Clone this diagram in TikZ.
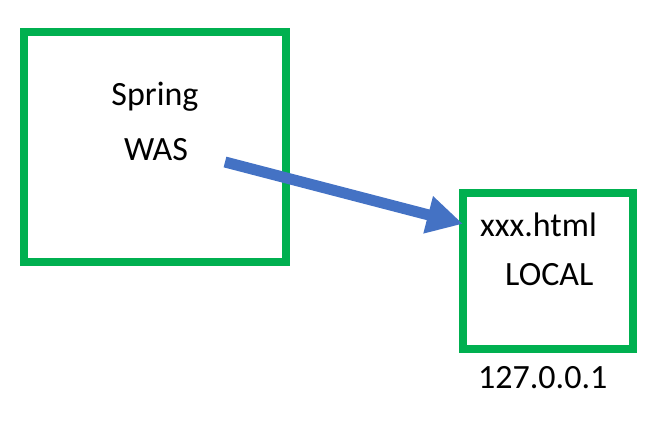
\documentclass[tikz,border=0pt]{standalone}
\usepackage{fontspec}
\setmainfont{Carlito}
\definecolor{boxgreen}{RGB}{0,176,80}
\definecolor{arrowblue}{RGB}{68,114,196}
\usepackage{tikz}
\usetikzlibrary{arrows.meta, positioning, calc}

\begin{document}
\begin{tikzpicture}[x=1pt, y=-1pt,
    hostbox/.style={draw=boxgreen, line width=8pt, outer sep=0pt, inner sep=0pt},
    label/.style={font=\fontsize{34}{40}\selectfont, inner sep=0pt}]
  \useasboundingbox (0,0) rectangle (669,434);
  % the two machines
  \node[hostbox, minimum width=262pt, minimum height=230pt] (was) at (155,147) {};
  \node[hostbox, minimum width=170pt, minimum height=156pt] (local) at (548,271) {};
  \node[label, anchor=base] (spring) at (155,105) {Spring};
  \node[label, anchor=base] (wasname) at (156,160) {WAS};
  \node[label, anchor=base west] (file) at (480,236) {xxx.html};
  \node[label, anchor=base west] (localname) at (505,285) {LOCAL};
  \node[label, anchor=base west] (ip) at (478,388) {127.0.0.1};
  % request
  \coordinate (tail) at (225,162);
  \draw[arrowblue, line width=11pt, -{Triangle[length=36pt, width=36pt]}]
    (tail) -- (local.151.6);
\end{tikzpicture}
\end{document}
